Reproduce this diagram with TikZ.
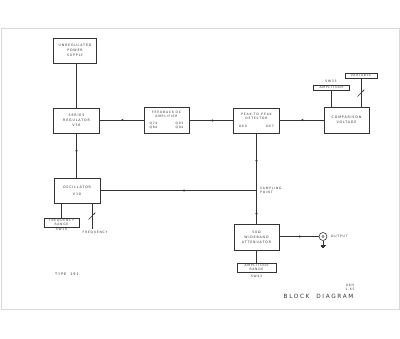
\documentclass[tikz,border=0pt]{standalone}
\usepackage{fontspec}
\setmainfont{DejaVu Sans}[LetterSpace=25]
\usetikzlibrary{decorations.markings,arrows.meta,calc}
\definecolor{ink}{rgb}{0.2,0.2,0.2}
\definecolor{framec}{rgb}{0.85,0.85,0.85}
\tikzset{
  wire/.style={draw=ink, line width=0.7pt},
  blk/.style={draw=ink, line width=0.7pt, align=center, inner sep=0pt,
    font=\fontsize{3.3}{5.2}\selectfont, text=ink},
  tag/.style={draw=ink, line width=0.5pt, align=center, inner sep=0pt,
    font=\fontsize{3.1}{4.2}\selectfont, text=ink},
  lbl/.style={inner sep=0pt, align=left, font=\fontsize{3.1}{4.2}\selectfont, text=ink},
  flow/.style={postaction={decorate}, decoration={markings,
    mark=at position #1 with {\arrow{Stealth[length=2.8pt,width=2.4pt]}}}},
  knob/.style={draw=ink, line width=0.5pt, -{Stealth[length=2pt,width=1.8pt]}}
}
\begin{document}
\begin{tikzpicture}[x=1bp,y=-1bp]
\useasboundingbox (0,0) rectangle (400,339);
\draw[framec, line width=0.8pt] (1,28) rectangle (399,309);

% main blocks
\node[blk, minimum width=43bp, minimum height=25bp] (ups) at (75,50.5) {UNREGULATED\\POWER\\SUPPLY};
\node[blk, minimum width=46bp, minimum height=25bp] (sreg) at (76.5,120.5) {SERIES\\REGULATOR\\V56};
\node[blk, minimum width=45bp, minimum height=26bp] (fb) at (166.5,120) {};
\node[lbl, align=center] (fbt) at (166.5,114) {FEEDBACK DC\\AMPLIFIER};
\node[lbl] (fbl) at (153.5,125.5) {Q74\\Q84};
\node[lbl] (fbr) at (179.5,125.5) {Q93\\Q94};
\node[blk, minimum width=46bp, minimum height=25bp] (pkd) at (256.5,120.5) {};
\node[lbl, align=center] (pkt) at (256.5,116) {PEAK-TO-PEAK\\DETECTOR};
\node[lbl] (pkl) at (243,126) {D60};
\node[lbl] (pkr) at (270,126) {D67};
\node[blk, minimum width=45bp, minimum height=26bp] (cmp) at (346.5,120) {COMPARISON\\VOLTAGE};
\node[blk, minimum width=46bp, minimum height=25bp] (osc) at (77,190.5) {OSCILLATOR\\[2bp]V10};
\node[blk, minimum width=45bp, minimum height=26bp] (att) at (256.5,237) {50Ω\\WIDEBAND\\ATTENUATOR};

% control boxes
\node[tag, minimum width=36bp, minimum height=5.5bp] (ampb) at (331.5,87.5) {AMPLITUDE};
\node[lbl] (sw33) at (331,81) {SW33};
\node[tag, minimum width=32bp, minimum height=5.5bp] (varb) at (361,75.5) {VARIABLE};
\node[tag, minimum width=35bp, minimum height=9bp] (frng) at (61.5,222.5) {FREQUENCY\\RANGE};
\node[lbl] (sw10) at (61.5,229.8) {SW10};
\node[tag, minimum width=39bp, minimum height=9bp] (arng) at (256.5,267.5) {AMPLITUDE\\RANGE};
\node[lbl] (sw43) at (256.5,276) {SW43};

% connectors
\coordinate (vx) at (76.5,0);
\draw[wire] (vx |- ups.south) -- (vx |- sreg.north);
\draw[wire, flow=0.44] (vx |- sreg.south) -- (vx |- osc.north);
\draw[wire, flow=0.52] (fb.west) -- (fb.west -| sreg.east);
\draw[wire, flow=0.52] (pkd.west) -- (pkd.west -| fb.east);
\draw[wire, flow=0.52] (cmp.west) -- (cmp.west -| pkd.east);
\coordinate (sp) at (256.5,190.5);
\draw[wire, flow=0.55] (osc.east) -- (sp);
\draw[wire, flow=0.56] (sp) -- (pkd.south);
\draw[wire, flow=0.76] (sp) -- (att.north);
\node[lbl, anchor=west] (spl) at (260,190) {SAMPLING\\POINT};

\draw[wire] (ampb.south) -- (ampb.south |- cmp.north);
\draw[wire] (varb.south) -- (varb.south |- cmp.north);
\coordinate (vk) at (361,93);
\draw[knob] ($(vk)+(-3.5,3.5)$) -- ($(vk)+(3.5,-3.5)$);

\draw[wire] (frng.north) -- (frng.north |- osc.south);
\coordinate (fk) at (92,229);
\draw[wire] (fk |- osc.south) -- (fk);
\coordinate (fkm) at (92,216);
\draw[knob] ($(fkm)+(-3.5,3.5)$) -- ($(fkm)+(3.5,-3.5)$);
\node[lbl] (freq) at (95,233) {FREQUENCY};

\draw[wire] (arng.north) -- (att.south);

% output connector
\node[draw=ink, line width=0.6pt, circle, minimum size=8bp, inner sep=0pt] (outc) at (323,236.5) {};
\node[draw=ink, line width=0.4pt, circle, minimum size=2.4bp, inner sep=0pt] (outi) at (323,236.5) {};
\draw[wire, flow=0.57] (att.east |- outc) -- (outc.west);
\coordinate (gnd) at (323,245);
\draw[wire] (outc.south) -- (gnd);
\draw[ink, line width=0.5pt] ($(gnd)+(-2.5,0)$) -- ($(gnd)+(2.5,0)$)
  ($(gnd)+(-1.6,1.3)$) -- ($(gnd)+(1.6,1.3)$)
  ($(gnd)+(-0.7,2.6)$) -- ($(gnd)+(0.7,2.6)$);
\node[lbl, anchor=west] (outl) at (331,236.5) {OUTPUT};

% titles
\node[lbl, font=\fontsize{3.5}{4.5}\selectfont] (typ) at (67,274) {TYPE \ 191};
\node[lbl, align=center] (dt) at (350,287.5) {U6H\\1-65};
\node[inner sep=0pt, text=ink, font=\fontsize{5.8}{6}\selectfont\addfontfeature{LetterSpace=28}] (bd) at (318.5,296) {BLOCK \ DIAGRAM};
\end{tikzpicture}
\end{document}
